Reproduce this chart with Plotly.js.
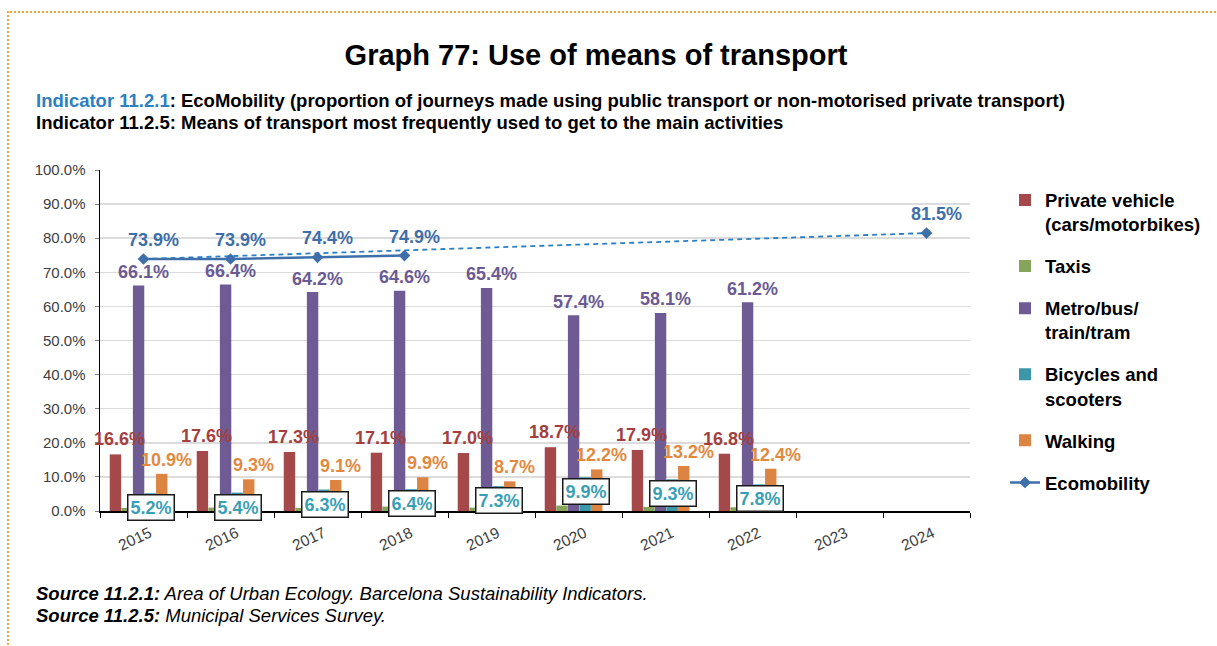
<!DOCTYPE html>
<html>
<head>
<meta charset="utf-8">
<script src="https://cdn.plot.ly/plotly-3.0.1.min.js"></script>
<style>
html,body{margin:0;padding:0;background:#fff;}
#wrap{position:relative;width:1217px;height:646px;}
#chart{position:absolute;left:0;top:0;width:1217px;height:646px;}
#frame{position:absolute;left:7px;top:11px;width:1230px;height:660px;border-top:2px dotted #f2a43a;border-left:2px dotted #f2a43a;pointer-events:none;}
</style>
</head>
<body>
<div id="wrap"><div id="chart"></div><div id="frame"></div></div>
<script>
// ---- data ----
const years = ['2015','2016','2017','2018','2019','2020','2021','2022','2023','2024'];
const privateVehicle = [16.6, 17.6, 17.3, 17.1, 17.0, 18.7, 17.9, 16.8, null, null];
const taxis          = [0.9, 1.0, 0.9, 1.3, 1.0, 1.6, 1.2, 1.1, null, null];
const metroBus       = [66.1, 66.4, 64.2, 64.6, 65.4, 57.4, 58.1, 61.2, null, null];
const bicycles       = [5.2, 5.4, 6.3, 6.4, 7.3, 9.9, 9.3, 7.8, null, null];
const walking        = [10.9, 9.3, 9.1, 9.9, 8.7, 12.2, 13.2, 12.4, null, null];
const ecomobility    = [73.9, 73.9, 74.4, 74.9, null, null, null, null, null, 81.5];
const trendYears     = ['2015', '2024'];
const trendValues    = [73.9, 81.5];
const yTickVals      = [0,10,20,30,40,50,60,70,80,90,100];

// ---- layout helpers (pixel geometry of the plot area) ----
const L = 100, R = 971, T = 169.5, B = 511;
const px = x => (x - L) / (R - L);
const py = y => (B - y) / (B - T);
const FONT = 'Liberation Sans, Arial, sans-serif';

const barW = 0.131, step = 0.133, off0 = -0.388;
const barSeries = [
  {name:'Private vehicle<br>(cars/motorbikes)', y: privateVehicle, color:'#a5484a'},
  {name:'Taxis', y: taxis, color:'#87a55a'},
  {name:'Metro/bus/<br>train/tram', y: metroBus, color:'#6e5b93'},
  {name:'Bicycles and<br>scooters', y: bicycles, color:'#3d97ab'},
  {name:'Walking', y: walking, color:'#dc8543'}
];

const traces = barSeries.map((s, i) => ({
  type:'bar', x: years, y: s.y, name: s.name,
  marker:{color:s.color}, width: barW, offset: off0 + i*step,
  legendgroup: 'g'+i, hoverinfo:'y'
}));

traces.push({
  type:'scatter', mode:'lines', x: trendYears, y: trendValues,
  line:{color:'#2b7fc6', width:1.8, dash:'5px,4px'},
  showlegend:false, hoverinfo:'skip'
});
traces.push({
  type:'scatter', mode:'lines+markers', x: years, y: ecomobility, name:'Ecomobility',
  line:{color:'#3e6fab', width:2.5}, marker:{symbol:'diamond', size:9, color:'#3e6fab'},
  connectgaps:false, legendgroup:'g5'
});

const annotations = [];
const fmt = v => v.toFixed(1) + '%';
const addLabels = (vals, dx, yshift, color, size, boxed) => {
  vals.forEach((v, i) => {
    if (v === null || v === undefined) return;
    const a = {x: i + dx, y: v, xref:'x', yref:'y', text: fmt(v), showarrow:false,
      yshift: yshift, yanchor:'middle', xanchor:'center',
      font:{family:FONT, size:size, color:color, weight:'bold'}};
    if (boxed) { a.bgcolor = '#ffffff'; a.bordercolor = '#1a1a1a'; a.borderwidth = 1.5; a.borderpad = 2; }
    annotations.push(a);
  });
};
addLabels(privateVehicle, -0.28, 15, '#a3403f', 18, false);
addLabels(metroBus, 0.0, 13.5, '#6b5a93', 18, false);
addLabels(walking, 0.26, 14, '#e2893f', 18, false);
addLabels(bicycles, 0.09, -14.5, '#3a9fb5', 18, true);
addLabels(ecomobility, 0.11, 19, '#3f6fa9', 18, false);

// header / footer texts
annotations.push({xref:'paper', yref:'paper', x: px(34), y: py(100), xanchor:'left', yanchor:'middle', showarrow:false,
  text:'<span style="color:#2c7fc1">Indicator 11.2.1</span>: EcoMobility (proportion of journeys made using public transport or non-motorised private transport)',
  font:{family:FONT, size:18.5, color:'#000', weight:'bold'}});
annotations.push({xref:'paper', yref:'paper', x: px(34), y: py(122), xanchor:'left', yanchor:'middle', showarrow:false,
  text:'Indicator 11.2.5: Means of transport most frequently used to get to the main activities',
  font:{family:FONT, size:18.5, color:'#000', weight:'bold'}});
annotations.push({xref:'paper', yref:'paper', x: px(34), y: py(594), xanchor:'left', yanchor:'middle', showarrow:false,
  text:'<b>Source 11.2.1:</b> Area of Urban Ecology. Barcelona Sustainability Indicators.',
  font:{family:FONT, size:18.5, color:'#000', style:'italic'}});
annotations.push({xref:'paper', yref:'paper', x: px(34), y: py(616), xanchor:'left', yanchor:'middle', showarrow:false,
  text:'<b>Source 11.2.5:</b> Municipal Services Survey.',
  font:{family:FONT, size:18.5, color:'#000', style:'italic'}});

const layout = {
  width:1217, height:646,
  margin:{l:L, r:1217-R, t:T, b:646-B, pad:0},
  paper_bgcolor:'#ffffff', plot_bgcolor:'#ffffff',
  font:{family:FONT, color:'#404040'},
  title:{text:'Graph 77: Use of means of transport', x:596/1217, xanchor:'center', y:1-55/646, yanchor:'middle', yref:'container',
    font:{family:FONT, size:29, color:'#000', weight:'bold'}},
  barmode:'group',
  xaxis:{type:'category', categoryorder:'array', categoryarray: years, range:[-0.5, 9.5],
    showline:true, linecolor:'#000', linewidth:1.5, ticks:'outside', tickson:'boundaries', ticklen:5, tickcolor:'#000',
    tickangle:-25, ticklabelshift:6, ticklabelstandoff:6,
    tickfont:{family:FONT, size:15.5, color:'#404040'}, showgrid:false, zeroline:false, fixedrange:true},
  yaxis:{range:[0,100], tickvals: yTickVals, ticktext: yTickVals.map(v => v.toFixed(1) + '%'),
    showline:true, linecolor:'#000', linewidth:1.5, ticks:'outside', ticklen:4, tickcolor:'#808080',
    showgrid:true, gridcolor:'#dcdcdc', gridwidth:1.5, zeroline:false,
    tickfont:{family:FONT, size:15, color:'#404040'}, ticklabelstandoff:6, fixedrange:true},
  legend:{x: px(1005), y: py(181), xanchor:'left', yanchor:'top', valign:'top', tracegroupgap:15,
    font:{family:FONT, size:18.5, color:'#000', weight:'bold'}, bgcolor:'rgba(0,0,0,0)', itemclick:false},
  showlegend:true,
  annotations: annotations
};

Plotly.newPlot('chart', traces, layout, {displayModeBar:false, staticPlot:true});
</script>
</body>
</html>
